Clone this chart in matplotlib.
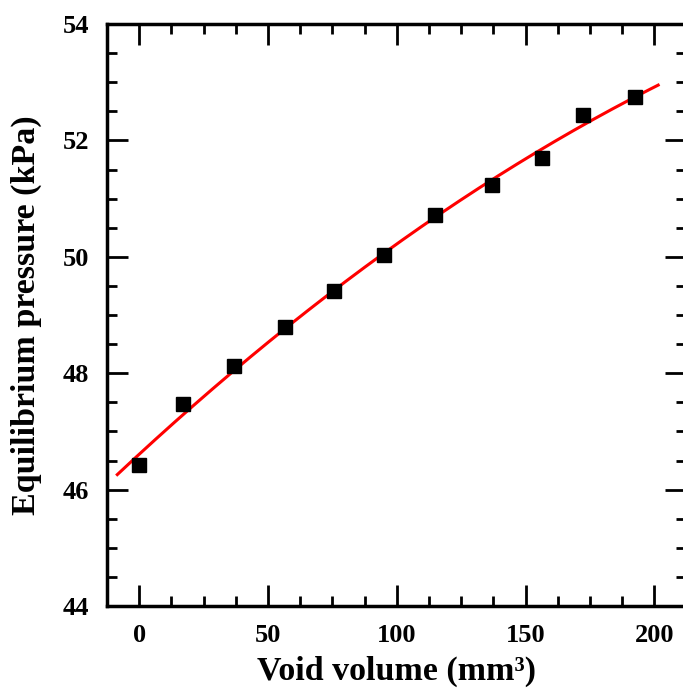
import numpy as np
import matplotlib.pyplot as plt
from matplotlib.ticker import MultipleLocator

# measured void volume (mm^3) vs equilibrium pressure (kPa)
void_volume = [0, 17.1, 36.9, 56.7, 75.7, 95.1, 115.0, 137.0, 156.5, 172.4, 192.6]
pressure = [46.42, 47.47, 48.12, 48.79, 49.41, 50.03, 50.72, 51.23, 51.70, 52.44, 52.75]

plt.rcParams['font.family'] = ['Liberation Serif', 'DejaVu Serif']
plt.rcParams['font.weight'] = 'bold'

fig = plt.figure(figsize=(6.83, 6.93), dpi=100)
ax = fig.add_axes([107 / 683, 87 / 693, 579 / 683, 582 / 693])

# quadratic fit through the measurements
coef = np.polyfit(void_volume, pressure, 2)
xf = np.linspace(-8.5, 201.5, 200)
ax.plot(xf, np.polyval(coef, xf), color='red', linewidth=2.2, zorder=2)
ax.plot(void_volume, pressure, 's', color='black', markersize=10.5, zorder=3)

ax.set_xlim(-12.5, 212.3)
ax.set_ylim(44, 54)
ax.xaxis.set_major_locator(MultipleLocator(50))
ax.xaxis.set_minor_locator(MultipleLocator(12.5))
ax.yaxis.set_major_locator(MultipleLocator(2))
ax.yaxis.set_minor_locator(MultipleLocator(0.5))

ax.tick_params(which='both', direction='in', top=True, right=True, width=2)
ax.tick_params(which='major', length=15, labelsize=19)
ax.tick_params(axis='x', which='major', pad=13)
ax.tick_params(axis='y', which='major', pad=13)
ax.tick_params(which='minor', length=7)
for lab in ax.get_xticklabels() + ax.get_yticklabels():
    lab.set_fontweight('bold')
for sp in ax.spines.values():
    sp.set_linewidth(2.5)

ax.set_xlabel('Void volume (mm³)', fontsize=24.5, fontweight='bold', labelpad=6)
ax.set_ylabel('Equilibrium pressure (kPa)', fontsize=24.5, fontweight='bold', labelpad=15)

fig.savefig('out.png', dpi=100)
